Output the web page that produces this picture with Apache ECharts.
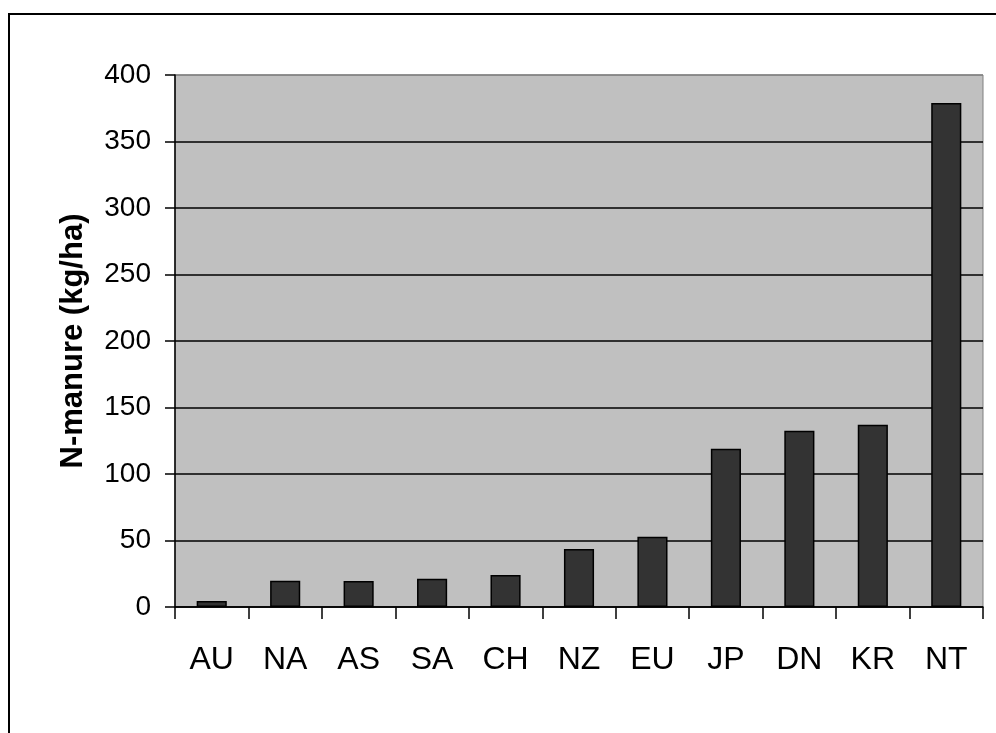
<!DOCTYPE html>
<html>
<head>
<meta charset="utf-8">
<script src="https://cdn.jsdelivr.net/npm/echarts@6/dist/echarts.min.js"></script>
<style>
html,body{margin:0;padding:0;background:#fff;}
#chart{width:996px;height:733px;}
</style>
</head>
<body>
<div id="chart"></div>
<script>
var categories = ['AU','NA','AS','SA','CH','NZ','EU','JP','DN','KR','NT'];
var values = [4.5, 19.8, 19.6, 21.3, 24, 43.6, 52.8, 119, 132.5, 137, 379];
var yTicks = {min: 0, max: 400, interval: 50};
var yTitle = 'N-manure (kg/ha)';

var chart = echarts.init(document.getElementById('chart'), null, {renderer: 'canvas'});
var font = 'Liberation Sans, Arial, sans-serif';
chart.setOption({
  backgroundColor: '#ffffff',
  animation: false,
  graphic: [{
    type: 'rect',
    shape: {x: 9, y: 14, width: 1100, height: 900},
    style: {fill: 'none', stroke: '#000', lineWidth: 2},
    silent: true
  }, {
    type: 'text',
    x: 73, y: 341,
    rotation: Math.PI / 2,
    style: {
      text: yTitle,
      fill: '#000',
      font: 'bold 31px Liberation Sans, Arial, sans-serif',
      textAlign: 'center',
      textVerticalAlign: 'middle'
    },
    silent: true
  }],
  grid: {
    left: 175, right: 13, top: 75, bottom: 126,
    show: true, backgroundColor: '#C0C0C0', borderColor: '#808080', borderWidth: 1
  },
  xAxis: {
    type: 'category',
    data: categories,
    boundaryGap: true,
    axisLine: {lineStyle: {color: '#000', width: 1.5}},
    axisTick: {show: true, alignWithLabel: false, length: 12, lineStyle: {color: '#000', width: 1.5}},
    axisLabel: {color: '#000', fontSize: 32, fontFamily: font, margin: 37}
  },
  yAxis: {
    type: 'value',
    min: yTicks.min, max: yTicks.max, interval: yTicks.interval,
    axisLine: {show: true, lineStyle: {color: '#000', width: 1.5}},
    axisTick: {show: true, length: 10, lineStyle: {color: '#000', width: 1.5}},
    axisLabel: {color: '#000', fontSize: 28, fontFamily: font, margin: 24, padding: [0, 0, 5, 0]},
    splitLine: {show: true, lineStyle: {color: ['#000','#000','#000','#000','#000','#000','#000','#000','#808080'], width: 1.5}}
  },
  series: [{
    type: 'bar',
    data: values,
    barWidth: '41%',
    itemStyle: {color: '#333333', borderColor: '#000', borderWidth: 1.5}
  }]
});
</script>
</body>
</html>
